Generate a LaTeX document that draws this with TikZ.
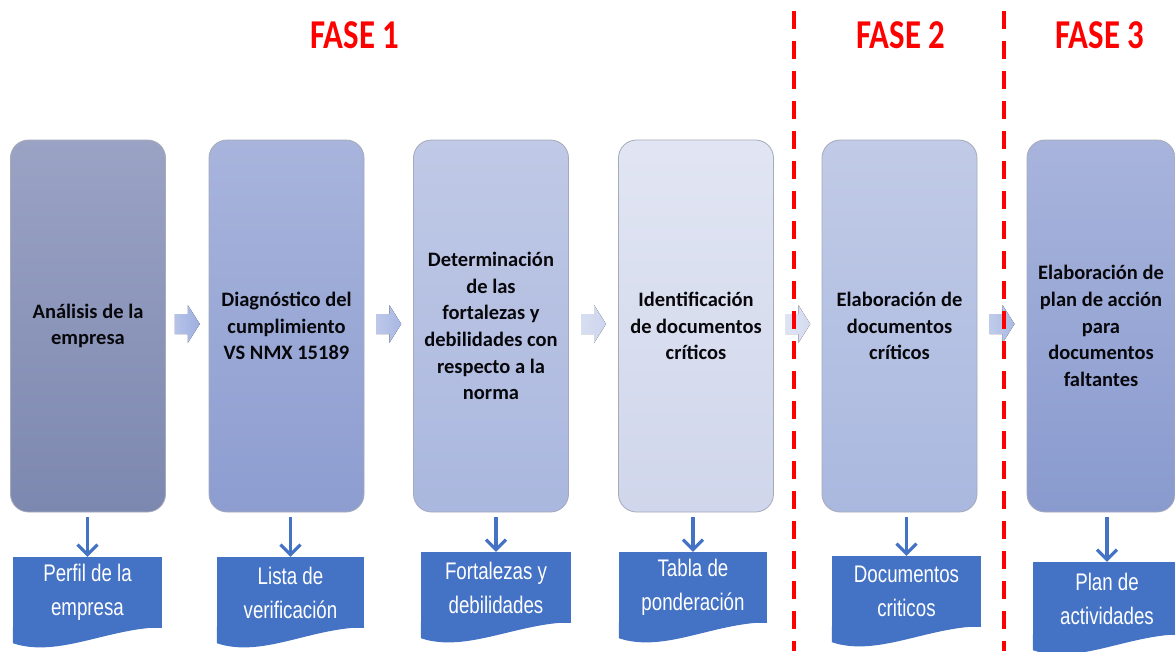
\documentclass[tikz,border=0pt]{standalone}
\usepackage{fontspec}
\setmainfont{Carlito}
\newfontfamily\narrowsans[FakeStretch=0.78]{Liberation Sans}
\newfontfamily\titlesans[FakeStretch=0.8]{Carlito}
\usepackage{tikz}
\usetikzlibrary{arrows.meta,calc}

\definecolor{docblue}{RGB}{68,114,196}
\definecolor{boxline}{RGB}{165,170,185}
\definecolor{boxtext}{RGB}{8,8,12}
\definecolor{faseRed}{RGB}{255,0,0}
\definecolor{chevA}{RGB}{158,175,224}
\definecolor{chevB}{RGB}{168,183,226}
\definecolor{chevC}{RGB}{204,212,237}
\definecolor{chevD}{RGB}{212,219,240}
\definecolor{chevE}{RGB}{170,186,228}

% wavy lower edge of an output document
\newcommand{\docwave}[1]{%
  \fill[docblue] ([yshift=1pt]#1.south east)
    .. controls ([xshift=-55pt]#1.south east) and ([xshift=45pt,yshift=-30pt]#1.south west)
    .. ([yshift=-15pt]#1.south west) -- ([yshift=1pt]#1.south west) -- cycle;}

% block arrow between two stages
\newcommand{\chevron}[2]{%
  \fill[left color=#2!75!white,right color=#2]
    ([shift={(-12.5pt,10pt)}]#1) -- ([shift={(0.5pt,10pt)}]#1)
    -- ([shift={(0.5pt,19pt)}]#1) -- ([shift={(12.5pt,0pt)}]#1)
    -- ([shift={(0.5pt,-19pt)}]#1) -- ([shift={(0.5pt,-10pt)}]#1)
    -- ([shift={(-12.5pt,-10pt)}]#1) -- cycle;}

\begin{document}
\begin{tikzpicture}[x=1pt,y=-1pt,
    stage/.style={draw=boxline,line width=0.8pt,rounded corners=18pt,
      minimum width=155pt,minimum height=372pt,inner sep=0pt,align=center,
      font=\bfseries\fontsize{20.5}{26.7}\selectfont,text=boxtext},
    output/.style={fill=docblue,inner sep=0pt,align=center,text=white,
      minimum height=71pt,font=\narrowsans\fontsize{24}{34}\selectfont},
    fase/.style={text=faseRed,font=\titlesans\bfseries\fontsize{41}{48}\selectfont},
    down/.style={docblue,line width=3.2pt,-{Straight Barb[length=10pt,width=20pt]},shorten <=5pt},
    phase line/.style={faseRed,line width=3.5pt,dash pattern=on 18pt off 12pt}]
	\useasboundingbox (0,0) rectangle (1175,651);
	\clip (0,0) rectangle (1175,651);
	
	% Phase titles
	\node[fase] (f1) at (355,35) {FASE 1};
	\node[fase] (f2) at (901,35) {FASE 2};
	\node[fase] (f3) at (1100,35) {FASE 3};
	
	% Stages
	\node[stage,top color={rgb,255:red,154;green,163;blue,196},bottom color={rgb,255:red,125;green,136;blue,176}]
		(b1) at (88,326) {An\'alisis de la\\empresa};
	\node[stage,top color={rgb,255:red,168;green,180;blue,220},bottom color={rgb,255:red,141;green,157;blue,208}]
		(b2) at (286.5,326) {Diagn\'ostico del\\cumplimiento\\VS NMX 15189};
	\node[stage,top color={rgb,255:red,192;green,201;blue,230},bottom color={rgb,255:red,170;green,183;blue,222}]
		(b3) at (491,326) {Determinaci\'on\\de las\\fortalezas y\\debilidades con\\respecto a la\\norma};
	\node[stage,top color={rgb,255:red,225;green,229;blue,243},bottom color={rgb,255:red,208;green,214;blue,235}]
		(b4) at (696,326) {Identificaci\'on\\de documentos\\cr\'iticos};
	\node[stage,top color={rgb,255:red,193;green,203;blue,231},bottom color={rgb,255:red,170;green,184;blue,223}]
		(b5) at (899.5,326) {Elaboraci\'on de\\documentos\\cr\'iticos};
	\node[stage,minimum width=148pt,top color={rgb,255:red,168;green,180;blue,220},bottom color={rgb,255:red,137;green,154;blue,206}]
		(b6) at (1101,326) {Elaboraci\'on de\\plan de acci\'on\\para\\documentos\\faltantes};
	
	% Block arrows between stages
	\coordinate (c12) at ($(b1.east)!0.5!(b2.west)+(0,-2)$);
	\coordinate (c23) at ($(b2.east)!0.5!(b3.west)+(0,-2)$);
	\coordinate (c34) at ($(b3.east)!0.5!(b4.west)+(0,-2)$);
	\coordinate (c45) at ($(b4.east)!0.5!(b5.west)+(0,-2)$);
	\coordinate (c56) at ($(b5.east)!0.5!(b6.west)+(0,-2)$);
	\chevron{c12}{chevA}
	\chevron{c23}{chevB}
	\chevron{c34}{chevC}
	\chevron{c45}{chevD}
	\chevron{c56}{chevE}
	
	% Outputs
	\node[output,minimum width=149pt] (d1) at (87.5,592.5) {Perfil de la\\empresa};
	\node[output,minimum width=147pt] (d2) at (290.5,592.5) {Lista de\\verificaci\'on};
	\node[output,minimum width=150pt] (d3) at (496,587.5) {Fortalezas y\\debilidades};
	\node[output,minimum width=148pt] (d4) at (693,587.5) {Tabla de\\ponderaci\'on};
	\node[output,minimum width=149pt] (d5) at (906.5,591.5) {Documentos\\criticos};
	\node[output,minimum width=148pt,minimum height=73pt] (d6) at (1107,598.5) {Plan de\\actividades};
	\docwave{d1}
	\docwave{d2}
	\docwave{d3}
	\docwave{d4}
	\docwave{d5}
	\docwave{d6}
	
	% Stage to output
	\draw[down] (d1.north |- b1.south) -- (d1.north);
	\draw[down] (d2.north |- b2.south) -- (d2.north);
	\draw[down] (d3.north |- b3.south) -- (d3.north);
	\draw[down] (d4.north |- b4.south) -- (d4.north);
	\draw[down] (d5.north |- b5.south) -- (d5.north);
	\draw[down] (d6.north |- b6.south) -- (d6.north);
	
	% Phase borders
	\coordinate (p1top) at (794,11);
	\coordinate (p1bot) at (794,651);
	\coordinate (p2top) at (1004,11);
	\coordinate (p2bot) at (1004,651);
	\draw[phase line] (p1top) -- (p1bot);
	\draw[phase line] (p2top) -- (p2bot);
\end{tikzpicture}
\end{document}
